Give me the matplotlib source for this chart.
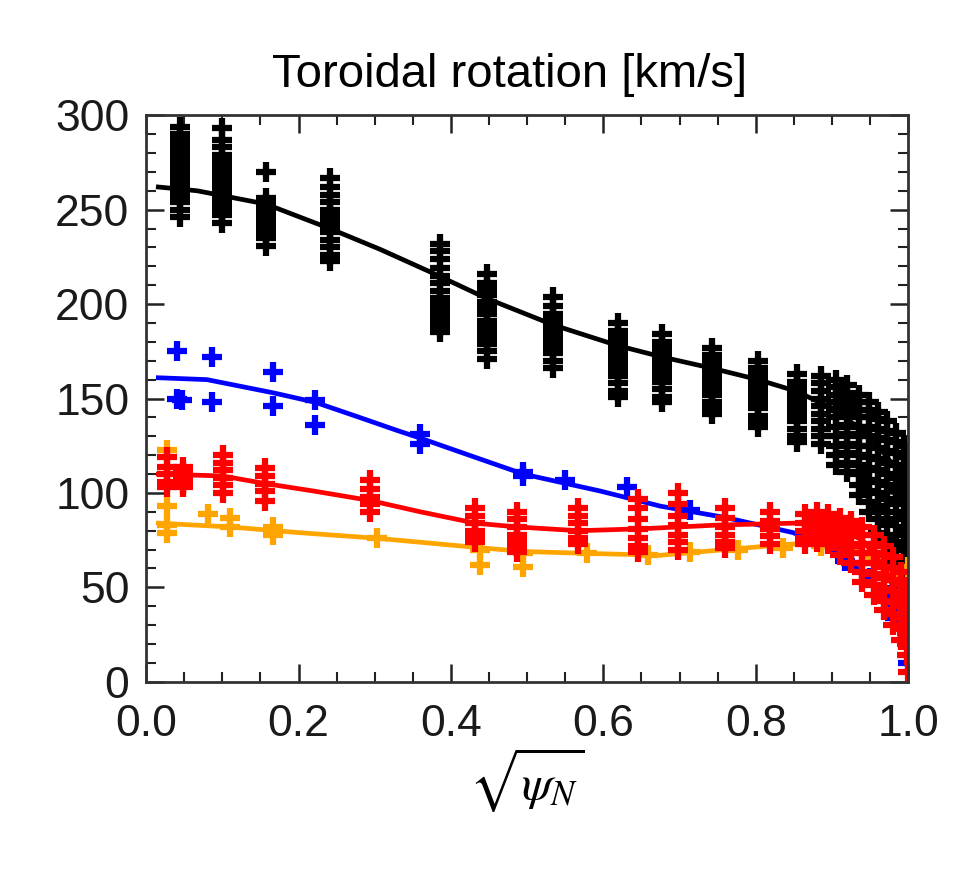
import matplotlib
matplotlib.use('Agg')
from matplotlib import pyplot as plt
from matplotlib.ticker import MultipleLocator
import numpy as np

plt.rcParams['font.family'] = ['Liberation Sans', 'DejaVu Sans']
plt.rcParams['mathtext.fontset'] = 'stix'

# black channels: x position and the stacked measurements at that radius
black_x = [0.045, 0.10, 0.157, 0.241, 0.386, 0.447, 0.534, 0.619, 0.677, 0.743,
           0.803, 0.854, 0.885, 0.905, 0.92, 0.935, 0.948, 0.96, 0.972, 0.984,
           0.995, 1.0]
black_y = [
    [294, 290, 287, 284, 281, 279, 277, 275, 273, 271, 269, 267, 265, 263, 261, 259, 257, 254, 250, 246],
    [293, 287, 283, 279, 276, 273, 270, 268, 265, 262, 259, 256, 253, 250, 247, 243],
    [270, 256, 253, 250, 248, 246, 244, 241, 238, 235, 231],
    [267, 262, 258, 254, 250, 247, 244, 241, 238, 234, 230, 226, 223],
    [232, 228, 224, 219, 215, 211, 207, 203, 200, 197, 194, 191, 188, 185],
    [216, 211, 208, 205, 201, 198, 195, 191, 188, 185, 182, 179, 175, 171],
    [204, 199, 195, 192, 189, 186, 183, 180, 177, 174, 170, 166],
    [190, 186, 183, 180, 177, 174, 171, 168, 165, 162, 158, 154, 151],
    [184, 180, 177, 174, 171, 168, 165, 162, 159, 155, 151, 148],
    [177, 173, 170, 167, 164, 161, 158, 155, 152, 148, 145, 142],
    [170, 166, 163, 160, 157, 154, 151, 148, 145, 141, 138, 135],
    [163, 159, 156, 153, 150, 147, 144, 141, 138, 134, 130, 127],
    [162, 158, 154, 150, 146, 142, 138, 134, 130, 126],
    [160, 156, 152, 148, 144, 140, 135, 130, 125, 120, 115],
    [157, 153, 149, 145, 141, 136, 131, 126, 121, 116, 111],
    [152, 148, 144, 140, 135, 130, 125, 120, 115, 110, 104, 99],
    [148, 144, 140, 135, 130, 125, 119, 113, 107, 101, 95, 90],
    [143, 139, 134, 129, 124, 118, 112, 106, 100, 93, 86, 79],
    [138, 133, 128, 122, 116, 110, 104, 97, 90, 83, 75, 68],
    [132, 127, 121, 115, 108, 101, 94, 86, 78, 70, 62],
    [125, 119, 112, 105, 98, 90, 82, 74, 66, 58, 50],
    [120, 112, 104, 96, 88, 80, 72, 64, 56],
]
black_fit_x = [0.016, 0.067, 0.157, 0.241, 0.307, 0.373, 0.447, 0.534, 0.619, 0.677, 0.743, 0.803, 0.852, 0.9, 0.95, 1.0]
black_fit_y = [262, 260, 253, 240, 229, 217, 203, 189, 178, 172, 166, 160, 154, 145, 130, 105]

blue_x = [0.041, 0.087, 0.041, 0.047, 0.087, 0.167, 0.167, 0.222, 0.222, 0.360, 0.360,
          0.495, 0.495, 0.55, 0.631, 0.714, 0.917, 0.95, 0.972, 0.983, 1.0, 1.0]
blue_y = [175, 172, 150, 149, 148, 164, 146, 149, 136, 131, 126,
          111, 109, 107, 103, 91, 64, 55, 46, 34, 29, 10]
blue_fit_x = [0.016, 0.08, 0.167, 0.222, 0.28, 0.33, 0.36, 0.438, 0.495, 0.596, 0.675, 0.76, 0.849, 0.9, 0.94, 0.97, 1.0]
blue_fit_y = [161, 160, 153, 148, 140, 133, 129, 118, 110, 101, 93, 87, 79, 70, 58, 45, 20]

# red channels
red_x = [0.027, 0.049, 0.101, 0.156, 0.294, 0.432, 0.487, 0.567, 0.646, 0.698, 0.760, 0.819,
         0.865, 0.88, 0.895, 0.91, 0.925, 0.94, 0.955, 0.968, 0.98, 0.99, 0.998, 1.0]
red_y = [
    [119, 114, 110, 106, 103],
    [114, 111, 108, 105, 103],
    [120, 116, 112, 108, 104, 100],
    [113, 109, 105, 101, 96],
    [107, 102, 98, 94, 90],
    [92, 88, 84, 80, 77, 74],
    [90, 86, 82, 78, 75, 72, 69],
    [92, 88, 84, 80, 76, 73],
    [97, 92, 86, 81, 76, 72, 69],
    [100, 94, 88, 83, 78, 74, 70],
    [92, 87, 82, 78, 74, 71],
    [90, 85, 81, 77, 73],
    [89, 84, 80, 76, 73],
    [90, 86, 82, 78, 74],
    [89, 85, 81, 77, 73],
    [87, 83, 79, 75, 71, 67],
    [85, 81, 77, 72, 68, 63],
    [82, 78, 73, 68, 63, 58, 53],
    [78, 73, 68, 63, 57, 51, 46],
    [72, 67, 61, 55, 49, 43, 38],
    [66, 60, 54, 48, 42, 36, 30],
    [58, 52, 46, 40, 34, 28, 22],
    [50, 44, 38, 32, 26, 20, 14],
    [5],
]
red_fit_x = [0.016, 0.1, 0.156, 0.22, 0.294, 0.36, 0.432, 0.487, 0.567, 0.648, 0.75, 0.849, 0.9, 0.94, 0.97, 1.0]
red_fit_y = [110, 109, 105, 101, 96, 90, 84, 82, 80, 81, 83, 84, 83, 75, 60, 30]

orange_x = [0.027, 0.027, 0.027, 0.027, 0.081, 0.11, 0.11, 0.167, 0.167, 0.303, 0.438, 0.438,
            0.495, 0.495, 0.578, 0.659, 0.714, 0.777, 0.836, 0.885, 1.0]
orange_y = [123, 93, 83, 79, 89, 87, 82, 82, 78, 76, 70, 62,
            68, 61, 68, 67, 69, 70, 71, 72, 61]
orange_fit_x = [0.016, 0.11, 0.2, 0.303, 0.438, 0.495, 0.578, 0.675, 0.76, 0.849, 0.885, 0.93, 0.97, 1.0]
orange_fit_y = [84, 82, 79, 76, 71, 69, 68, 67, 70, 73, 74, 70, 60, 50]

fig = plt.figure(figsize=(9.55, 8.73), dpi=100)
ax = fig.add_axes([0.153, 0.219, 0.798, 0.649])

ms = 15
mew = 4.5
lw = 3.4
for xc, ys in zip(black_x, black_y):
    ax.plot([xc] * len(ys), ys, '+', color='black', ms=ms, mew=mew)
ax.plot(black_fit_x, black_fit_y, '-', color='black', lw=lw)

ax.plot(blue_x, blue_y, '+', color='#0000ff', ms=ms, mew=mew)
ax.plot(blue_fit_x, blue_fit_y, '-', color='#0000ff', lw=lw)

ax.plot(orange_x, orange_y, '+', color='#ffa500', ms=ms, mew=mew)
ax.plot(orange_fit_x, orange_fit_y, '-', color='#ffa500', lw=lw)

for xc, ys in zip(red_x, red_y):
    ax.plot([xc] * len(ys), ys, '+', color='#ff0000', ms=ms, mew=mew)
ax.plot(red_fit_x, red_fit_y, '-', color='#ff0000', lw=lw)

ax.set_xlim(0, 1.0)
ax.set_ylim(0, 300)
ax.xaxis.set_major_locator(MultipleLocator(0.2))
ax.xaxis.set_minor_locator(MultipleLocator(0.05))
ax.yaxis.set_major_locator(MultipleLocator(50))
ax.yaxis.set_minor_locator(MultipleLocator(10))
ax.xaxis.set_major_formatter(plt.FuncFormatter(lambda v, p: '%.1f' % v))

ax.tick_params(which='both', direction='in', top=True, right=True, colors='#222222')
ax.tick_params(which='major', length=13, width=1.8, labelsize=32, labelcolor='#1a1a1a')
ax.tick_params(which='minor', length=7, width=1.5)
ax.tick_params(axis='x', which='major', pad=16)
ax.tick_params(axis='y', which='major', pad=12)
for s in ax.spines.values():
    s.set_linewidth(2)
    s.set_color('#333333')

ax.set_xlabel(r'$\sqrt{\psi_N}$', fontsize=36, labelpad=0)
fig.text(510 / 955, 1 - 75 / 873, 'Toroidal rotation [km/s]', fontsize=34,
         ha='center', va='center')

fig.savefig('out.png', dpi=100)
